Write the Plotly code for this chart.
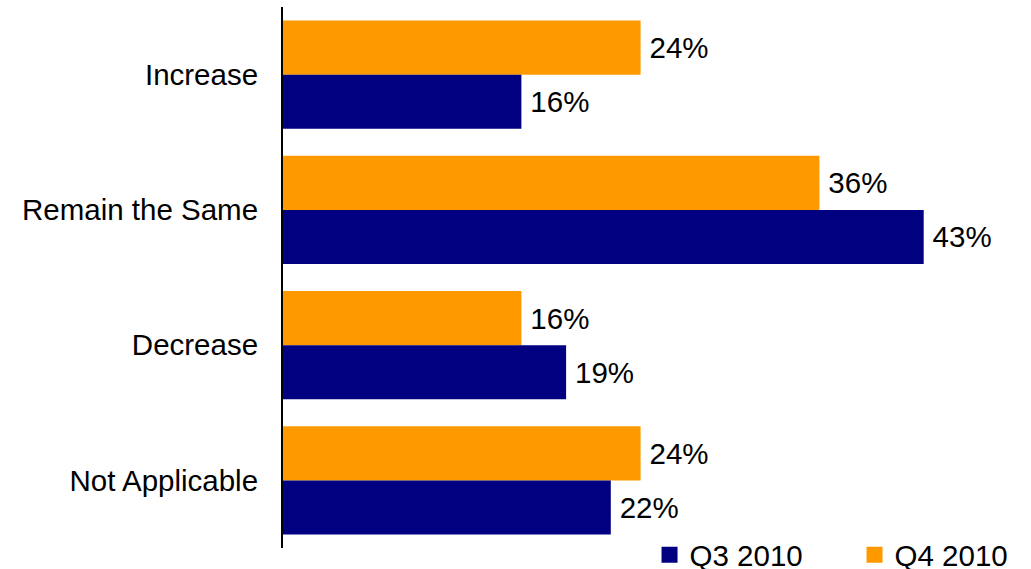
import plotly.graph_objects as go

# Survey responses by category
categories = ["Increase", "Remain the Same", "Decrease", "Not Applicable"]
q3_2010 = [16, 43, 19, 22]
q4_2010 = [24, 36, 16, 24]

NAVY = "#000080"
ORANGE = "#FF9900"
FONT = "Liberation Sans, Arial, sans-serif"
FS = 29.5

fig = go.Figure()

# Q4 drawn first so it sits above Q3 in each group (reversed category axis)
fig.add_trace(go.Bar(
    y=categories, x=q4_2010, orientation="h", name="Q4 2010",
    marker=dict(color=ORANGE, line=dict(width=0)),
    text=[f"\u2009{v}%" for v in q4_2010], textposition="outside",
    textfont=dict(family=FONT, size=FS, color="black"),
    cliponaxis=False, showlegend=False,
))
fig.add_trace(go.Bar(
    y=categories, x=q3_2010, orientation="h", name="Q3 2010",
    marker=dict(color=NAVY, line=dict(width=0)),
    text=[f"\u2009{v}%" for v in q3_2010], textposition="outside",
    textfont=dict(family=FONT, size=FS, color="black"),
    cliponaxis=False, showlegend=False,
))

# Legend entries with square swatches
for name, color in [("Q3 2010", NAVY), ("Q4 2010", ORANGE)]:
    fig.add_trace(go.Scatter(
        x=[None], y=[None], mode="markers", name=name,
        marker=dict(symbol="square", size=18, color=color),
        showlegend=True,
    ))

fig.update_layout(
    width=1031, height=569,
    margin=dict(l=283, r=3, t=7, b=21, autoexpand=False),
    paper_bgcolor="white", plot_bgcolor="white",
    barmode="group", bargap=0.2, bargroupgap=0,
    font=dict(family=FONT, size=FS, color="black"),
    uniformtext=dict(minsize=FS, mode="show"),
    legend=dict(
        orientation="h", x=0.492, xanchor="left", y=-0.013, yanchor="middle",
        font=dict(family=FONT, size=FS, color="black"),
        entrywidth=160, entrywidthmode="pixels",
        bgcolor="rgba(0,0,0,0)", borderwidth=0, traceorder="normal",
    ),
    xaxis=dict(
        range=[0, 50], showgrid=False, zeroline=False, showline=False,
        showticklabels=False, ticks="",
    ),
    yaxis=dict(
        categoryorder="array", categoryarray=categories,
        range=[3.5, -0.5], showgrid=False, zeroline=False,
        showline=True, linecolor="black", linewidth=2,
        ticks="", ticklabelstandoff=17,
        tickfont=dict(family=FONT, size=FS, color="black"),
    ),
)

fig.write_html("out.html")
